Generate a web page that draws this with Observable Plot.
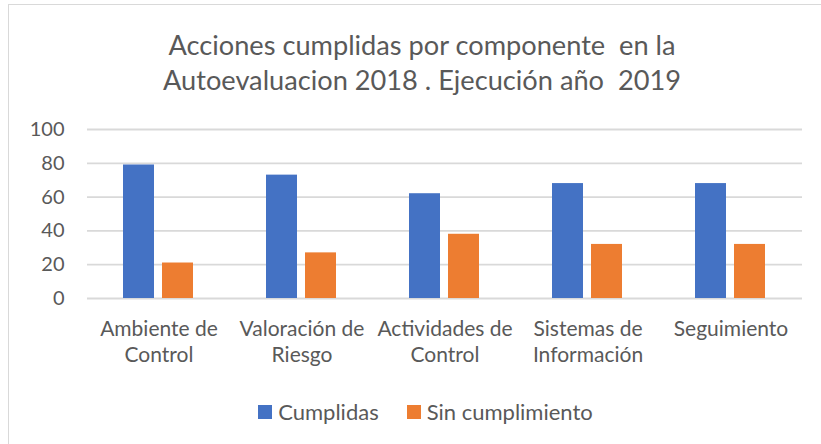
<!DOCTYPE html>
<html>
<head>
<meta charset="utf-8">
<script src="https://cdn.jsdelivr.net/npm/d3@7"></script>
<script src="https://cdn.jsdelivr.net/npm/@observablehq/plot@0.6"></script>
<style>
  html, body { margin: 0; padding: 0; background: #fff; }
  #wrap { position: relative; width: 821px; height: 444px; overflow: hidden; font-family: Lato, "Open Sans", sans-serif; color: #595959; }
  #frame { position: absolute; left: 8px; top: 4px; width: 900px; height: 500px; border: 1.5px solid #D9D9D9; box-sizing: border-box; }
  #title { position: absolute; left: 0; top: 27px; width: 844px; text-align: center; font-size: 27.2px; line-height: 35px; white-space: pre; }
  #chart { position: absolute; left: 0; top: 98px; }
  #legend { position: absolute; left: 0; top: 398px; width: 851px; display: flex; justify-content: center; font-size: 22px; line-height: 28px; }
  .item { display: flex; align-items: center; margin: 0 14px; }
  .sw { width: 14px; height: 14px; margin-right: 6px; }
</style>
</head>
<body>
<div id="wrap">
  <div id="frame"></div>
  <div id="title"></div>
  <div id="chart"></div>
  <div id="legend"></div>
</div>
<script>
const titleLines = ["Acciones cumplidas por componente  en la", "Autoevaluacion 2018 . Ejecución año  2019"];
const categories = ["Ambiente de\nControl", "Valoración de\nRiesgo", "Actividades de\nControl", "Sistemas de\nInformación", "Seguimiento"];
const series = ["Cumplidas", "Sin cumplimiento"];
const cumplidas = [79, 73, 62, 68, 68];
const sinCumplimiento = [21, 27, 38, 32, 32];
const yTicks = [0, 20, 40, 60, 80, 100];
const colors = ["#4472C4", "#ED7D31"];

const data = [];
categories.forEach((c, i) => {
  data.push({cat: c, serie: series[0], value: cumplidas[i]});
  data.push({cat: c, serie: series[1], value: sinCumplimiento[i]});
});

document.getElementById("title").textContent = titleLines.join("\n");

const chart = Plot.plot({
  width: 821,
  height: 282,
  marginTop: 31,
  marginBottom: 82,
  marginLeft: 85,
  marginRight: 17,
  style: {color: "#595959", fontFamily: "Lato, 'Open Sans', sans-serif", background: "transparent"},
  fx: {domain: categories, padding: 0, label: null},
  x: {domain: series, paddingInner: 0.2, paddingOuter: 0.9, axis: null},
  y: {domain: [0, 100], label: null},
  color: {domain: series, range: colors},
  marks: [
    Plot.gridY(yTicks, {stroke: "#D9D9D9", strokeOpacity: 1, strokeWidth: 1.8}),
    Plot.barY(data, {fx: "cat", x: "serie", y: "value", fill: "serie"}),
    Plot.axisY(yTicks, {tickSize: 0, tickPadding: 23, fontSize: 20, label: null, fill: "#595959"}),
    Plot.axisFx({anchor: "bottom", tickSize: 0, tickPadding: 19, fontSize: 21, lineHeight: 1.24, label: null, fill: "#595959"})
  ]
});
document.getElementById("chart").appendChild(chart);

const legend = document.getElementById("legend");
series.forEach((s, i) => {
  const item = document.createElement("div");
  item.className = "item";
  const sw = document.createElement("div");
  sw.className = "sw";
  sw.style.background = colors[i];
  item.appendChild(sw);
  const t = document.createElement("span");
  t.textContent = s;
  item.appendChild(t);
  legend.appendChild(item);
});
</script>
</body>
</html>
